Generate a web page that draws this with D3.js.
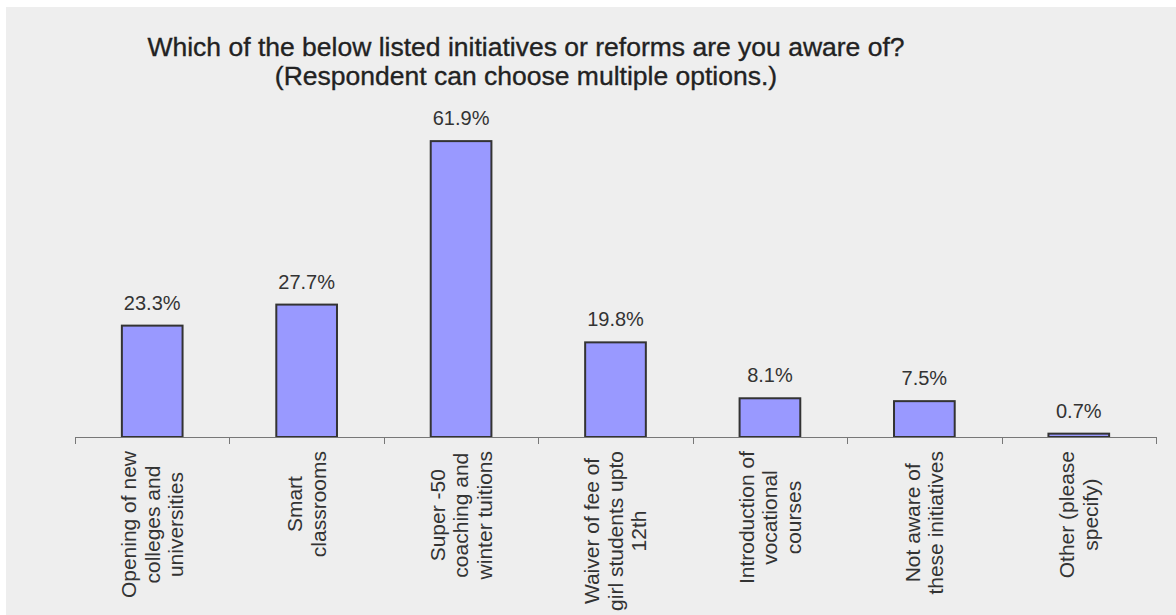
<!DOCTYPE html>
<html>
<head>
<meta charset="utf-8">
<script src="https://cdn.jsdelivr.net/npm/d3@7/dist/d3.min.js"></script>
<style>
  html, body { margin: 0; padding: 0; background: #ffffff; }
  svg { display: block; }
  text { font-family: "Liberation Sans", Arial, sans-serif; }
</style>
</head>
<body>
<svg id="chart" width="1176" height="615"></svg>
<script>
const categories = [
  ["Opening of new", "colleges and", "universities"],
  ["Smart", "classrooms"],
  ["Super -50", "coaching and", "winter tuitions"],
  ["Waiver of fee of", "girl students upto", "12th"],
  ["Introduction of", "vocational", "courses"],
  ["Not aware of", "these initiatives"],
  ["Other (please", "specify)"]
];
const values = [23.3, 27.7, 61.9, 19.8, 8.1, 7.5, 0.7];
const valueLabels = ["23.3%", "27.7%", "61.9%", "19.8%", "8.1%", "7.5%", "0.7%"];
const titleLines = [
  "Which of the below listed initiatives or reforms are you aware of?",
  "(Respondent can choose multiple options.)"
];

const svg = d3.select("#chart");
const W = 1176, H = 615;

// panel background
svg.append("rect")
  .attr("x", 6).attr("y", 7)
  .attr("width", W - 6).attr("height", H - 7)
  .attr("fill", "#eeeeee");

const idx = d3.range(categories.length);
const x = d3.scaleBand().domain(idx).range([75, 1156]).padding(0);
const y = d3.scaleLinear().domain([0, 70]).range([437, 102.4]);

// title
svg.append("g").selectAll("text")
  .data(titleLines)
  .join("text")
  .attr("x", 526)
  .attr("y", (d, i) => 56 + i * 29)
  .attr("text-anchor", "middle")
  .attr("font-size", 26.5)
  .attr("fill", "#222222")
  .attr("stroke", "#222222")
  .attr("stroke-width", 0.35)
  .text(d => d);

// bars
const barW = x.bandwidth() * 0.393;
svg.append("g").selectAll("rect")
  .data(values)
  .join("rect")
  .attr("x", (d, i) => x(i) + x.bandwidth() / 2 - barW / 2)
  .attr("y", d => y(d))
  .attr("width", barW)
  .attr("height", d => y(0) - y(d))
  .attr("fill", "#9999ff")
  .attr("stroke", "#333333")
  .attr("stroke-width", 2);

// value labels
svg.append("g").selectAll("text")
  .data(values)
  .join("text")
  .attr("x", (d, i) => x(i) + x.bandwidth() / 2)
  .attr("y", d => y(d) - 16)
  .attr("text-anchor", "middle")
  .attr("font-size", 20)
  .attr("fill", "#333333")
  .text((d, i) => valueLabels[i]);

// axis line + ticks at band boundaries
const axisG = svg.append("g");
axisG.append("line")
  .attr("x1", x.range()[0]).attr("x2", x.range()[1])
  .attr("y1", y(0) + 0.5).attr("y2", y(0) + 0.5)
  .attr("stroke", "#777777").attr("stroke-width", 1);
const bounds = idx.map(i => x(i)).concat([x.range()[1]]);
axisG.selectAll("line.tick")
  .data(bounds)
  .join("line")
  .attr("class", "tick")
  .attr("x1", d => Math.round(d) + 0.5).attr("x2", d => Math.round(d) + 0.5)
  .attr("y1", y(0)).attr("y2", y(0) + 7)
  .attr("stroke", "#777777").attr("stroke-width", 1);

// category labels (rotated, multi-line, centered lines, block anchored to top)
const lineH = 23.5;
const labelTop = 451;
const catG = svg.append("g");
categories.forEach((lines, i) => {
  const cx = x(i) + x.bandwidth() / 2;
  const g = catG.append("g")
    .attr("transform", `translate(${cx},${labelTop}) rotate(-90)`);
  const texts = g.selectAll("text")
    .data(lines)
    .join("text")
    .attr("font-size", 21)
    .attr("fill", "#333333")
    .attr("text-anchor", "middle")
    .attr("dy", "0.35em")
    .attr("y", (d, j) => (j - (lines.length - 1) / 2) * lineH)
    .text(d => d);
  let maxW = 0;
  texts.each(function () { maxW = Math.max(maxW, this.getComputedTextLength()); });
  texts.attr("x", -maxW / 2);
});
</script>
</body>
</html>
